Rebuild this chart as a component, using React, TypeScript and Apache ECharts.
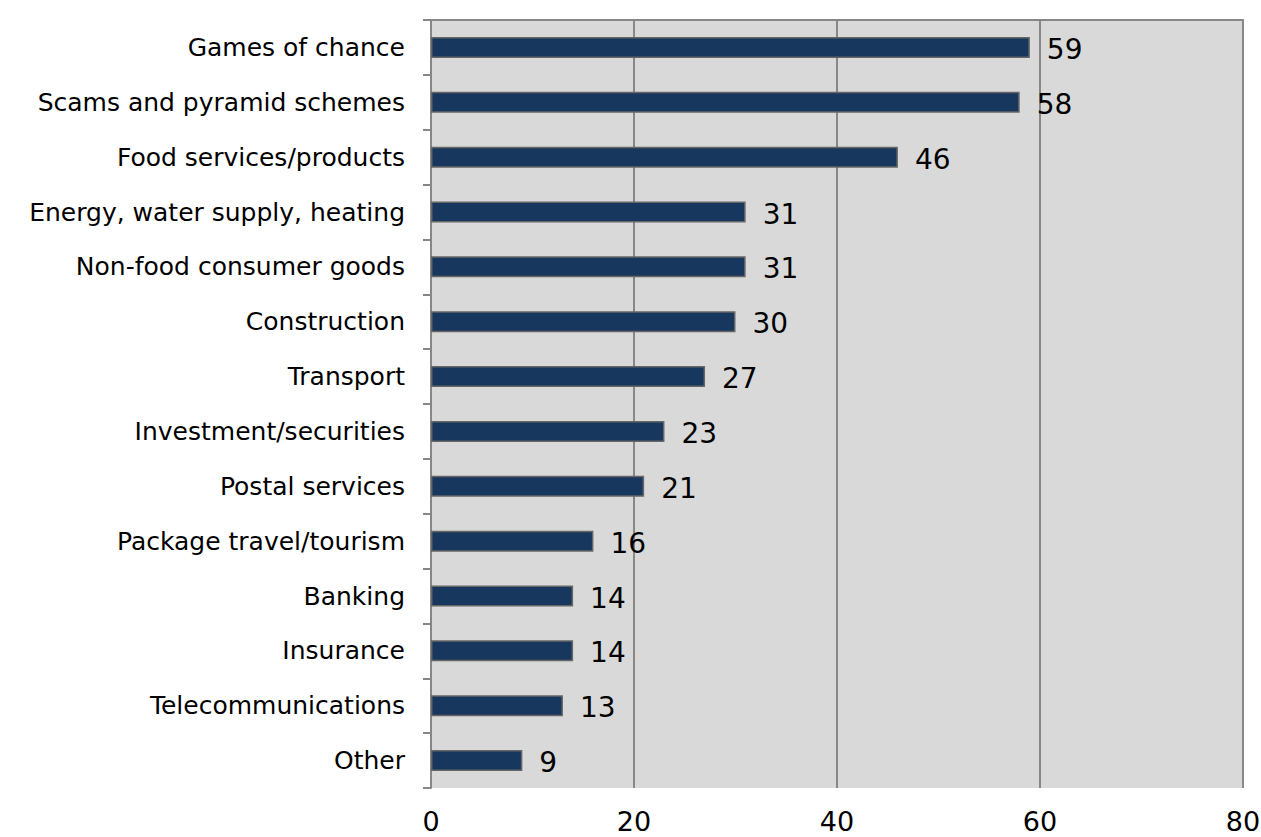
import React, { useEffect, useRef } from "react";
import * as echarts from "echarts";

const categories = [
  "Games of chance",
  "Scams and pyramid schemes",
  "Food services/products",
  "Energy, water supply, heating",
  "Non-food consumer goods",
  "Construction",
  "Transport",
  "Investment/securities",
  "Postal services",
  "Package travel/tourism",
  "Banking",
  "Insurance",
  "Telecommunications",
  "Other",
];
const values = [59, 58, 46, 31, 31, 30, 27, 23, 21, 16, 14, 14, 13, 9];
const xTicks = [0, 20, 40, 60, 80];

export default function App() {
  const ref = useRef<HTMLDivElement>(null);
  useEffect(() => {
    const chart = echarts.init(ref.current!, undefined, { renderer: "svg" });
    const font = "DejaVu Sans, Verdana, sans-serif";
    chart.setOption({
      animation: false,
      backgroundColor: "#ffffff",
      grid: {
        left: 431,
        right: 18,
        top: 20,
        bottom: 49,
        show: true,
        backgroundColor: "#d9d9d9",
        borderWidth: 0,
        containLabel: false,
        outerBoundsMode: "none",
      },
      xAxis: [
        {
          type: "value",
          min: xTicks[0],
          max: xTicks[xTicks.length - 1],
          interval: 20,
          axisLine: { show: false },
          axisTick: { show: false },
          splitLine: { show: true, lineStyle: { color: "#878787", width: 2 } },
          axisLabel: {
            color: "#000",
            fontSize: 27,
            fontFamily: font,
            margin: 20,
          },
        },
        {
          type: "value",
          position: "top",
          min: xTicks[0],
          max: xTicks[xTicks.length - 1],
          interval: 20,
          axisLine: { show: true, lineStyle: { color: "#878787", width: 2 } },
          axisTick: { show: false },
          axisLabel: { show: false },
          splitLine: { show: false },
        },
      ],
      yAxis: {
        type: "category",
        data: categories,
        inverse: true,
        axisLine: { show: true, lineStyle: { color: "#878787", width: 2 } },
        axisTick: {
          show: true,
          length: 8,
          inside: false,
          lineStyle: { color: "#878787", width: 2 },
        },
        axisLabel: {
          color: "#000",
          fontSize: 25,
          fontFamily: font,
          margin: 26,
        },
      },
      series: [
        {
          type: "bar",
          data: values,
          barWidth: 21,
          itemStyle: {
            color: "#17375e",
            borderColor: "#666666",
            borderWidth: 1.5,
          },
          label: {
            show: true,
            position: "right",
            distance: 17,
            offset: [0, 2],
            color: "#000",
            fontSize: 28,
            fontFamily: font,
          },
        },
      ],
    });
    return () => chart.dispose();
  }, []);
  return (
    <div
      ref={ref}
      style={{ position: "fixed", left: 0, top: 0, width: 1261, height: 837 }}
    />
  );
}
